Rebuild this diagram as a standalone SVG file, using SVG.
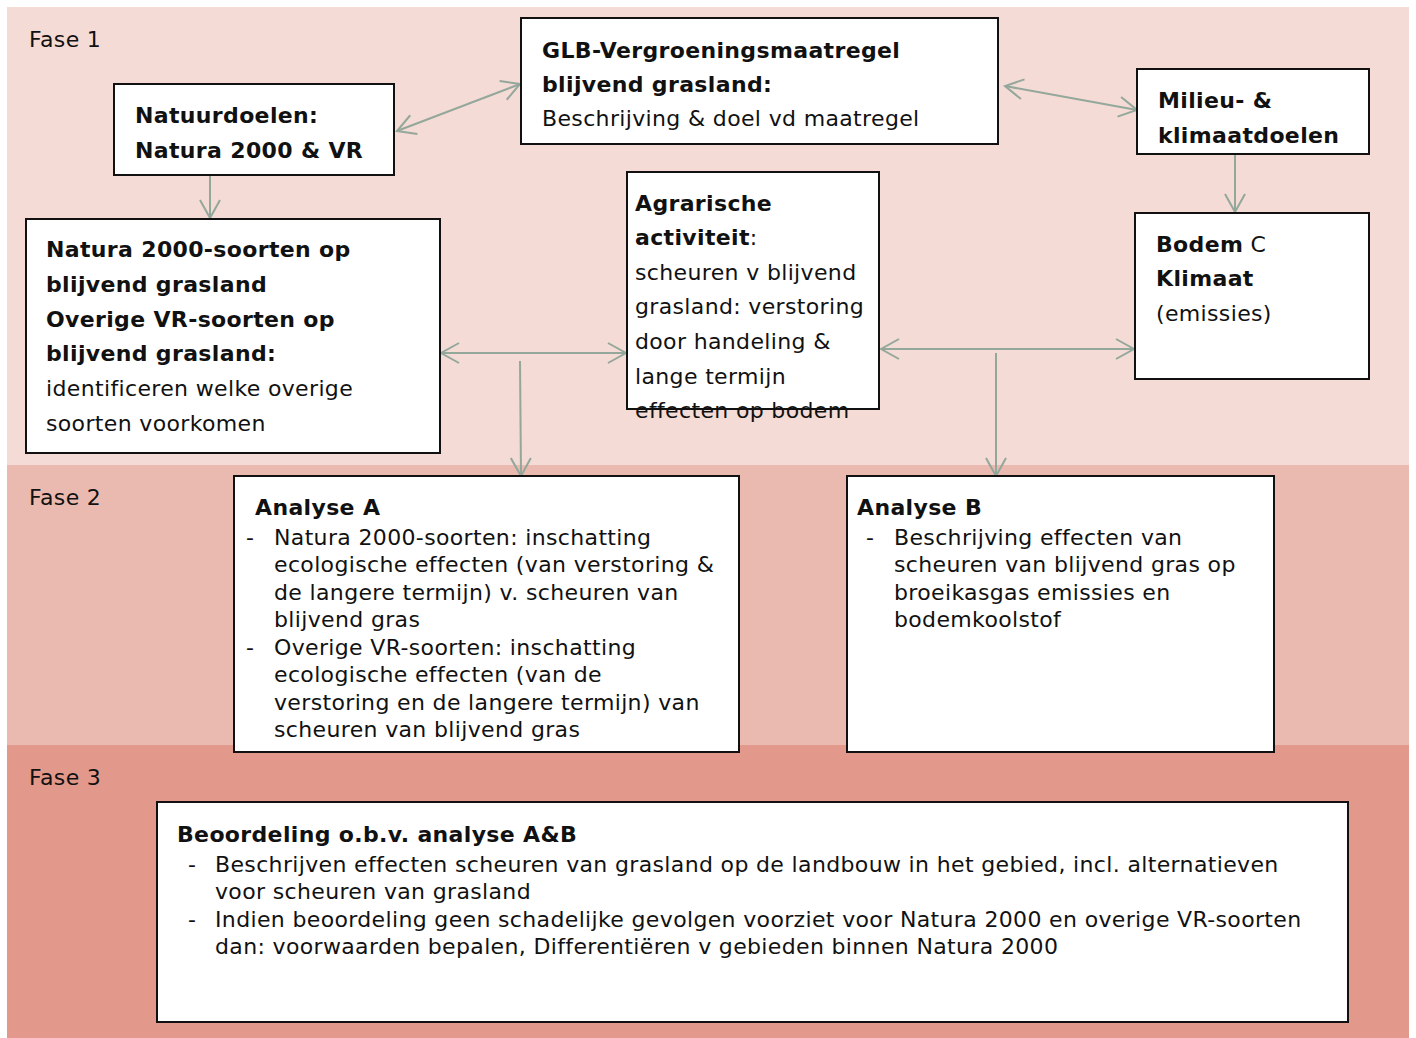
<svg xmlns="http://www.w3.org/2000/svg" width="1416" height="1038" viewBox="0 0 1416 1038">
<style>
text{font-family:"DejaVu Sans",Verdana,sans-serif;font-size:22px;letter-spacing:0.35px;fill:#111}
.b{font-weight:bold}
.box{fill:#fff;stroke:#111;stroke-width:2}
.c{stroke:#93a79a;stroke-width:2;fill:none}
</style>
<defs>
<marker id="ah" markerUnits="userSpaceOnUse" markerWidth="22" markerHeight="22" viewBox="0 0 22 22" refX="20" refY="11" orient="auto-start-reverse">
<path d="M2,1 L20,11 L2,21" fill="none" stroke="#93a79a" stroke-width="2"/>
</marker>
</defs>
<rect width="1416" height="1038" fill="#fff"/>
<g id="bands">
<rect x="7" y="7" width="1402" height="458" fill="#f5dbd6"/>
<rect x="7" y="465" width="1402" height="280" fill="#eab9b0"/>
<rect x="7" y="745" width="1402" height="293" fill="#e2988a"/>
<text x="29" y="47">Fase 1</text>
<text x="29" y="505">Fase 2</text>
<text x="29" y="785">Fase 3</text>
</g>
<g id="connectors">
<line class="c" x1="397" y1="131" x2="520" y2="84" marker-start="url(#ah)" marker-end="url(#ah)"/>
<line class="c" x1="1005" y1="86" x2="1137" y2="110" marker-start="url(#ah)" marker-end="url(#ah)"/>
<line class="c" x1="210" y1="158" x2="210" y2="218" marker-end="url(#ah)"/>
<line class="c" x1="1235" y1="154" x2="1235" y2="212" marker-end="url(#ah)"/>
<line class="c" x1="441" y1="353" x2="626" y2="353" marker-start="url(#ah)" marker-end="url(#ah)"/>
<line class="c" x1="520" y1="361" x2="521" y2="476" marker-end="url(#ah)"/>
<line class="c" x1="881" y1="349" x2="1134" y2="349" marker-start="url(#ah)" marker-end="url(#ah)"/>
<line class="c" x1="996" y1="353" x2="996" y2="476" marker-end="url(#ah)"/>
</g>
<g id="natuurdoelen">
<rect class="box" x="114" y="84" width="280" height="91"/>
<text class="b" x="135" y="123">Natuurdoelen:</text>
<text class="b" x="135" y="158">Natura 2000 &amp; VR</text>
</g>
<g id="glb">
<rect class="box" x="521" y="18" width="477" height="126"/>
<text class="b" x="542" y="58">GLB-Vergroeningsmaatregel</text>
<text class="b" x="542" y="92">blijvend grasland:</text>
<text x="542" y="126">Beschrijving &amp; doel vd maatregel</text>
</g>
<g id="milieu">
<rect class="box" x="1137" y="69" width="232" height="85"/>
<text class="b" x="1158" y="108">Milieu- &amp;</text>
<text class="b" x="1158" y="143">klimaatdoelen</text>
</g>
<g id="soorten">
<rect class="box" x="26" y="219" width="414" height="234"/>
<text class="b" x="46" y="257">Natura 2000-soorten op</text>
<text class="b" x="46" y="292">blijvend grasland</text>
<text class="b" x="46" y="327">Overige VR-soorten op</text>
<text class="b" x="46" y="361">blijvend grasland:</text>
<text x="46" y="396">identificeren welke overige</text>
<text x="46" y="431">soorten voorkomen</text>
</g>
<g id="agrarische">
<rect class="box" x="627" y="172" width="252" height="237"/>
<text class="b" x="635" y="211">Agrarische</text>
<text x="635" y="245"><tspan class="b">activiteit</tspan>:</text>
<text x="635" y="280">scheuren v blijvend</text>
<text x="635" y="314">grasland: verstoring</text>
<text x="635" y="349">door handeling &amp;</text>
<text x="635" y="384">lange termijn</text>
<text x="635" y="418">effecten op bodem</text>
</g>
<g id="bodem">
<rect class="box" x="1135" y="213" width="234" height="166"/>
<text x="1156" y="252"><tspan class="b">Bodem</tspan> C</text>
<text class="b" x="1156" y="286">Klimaat</text>
<text x="1156" y="321">(emissies)</text>
</g>
<g id="analyseA">
<rect class="box" x="234" y="476" width="505" height="276"/>
<text class="b" x="255" y="515">Analyse A</text>
<text x="246" y="545">-</text>
<text x="274" y="545">Natura 2000-soorten: inschatting</text>
<text x="274" y="572">ecologische effecten (van verstoring &amp;</text>
<text x="274" y="600">de langere termijn) v. scheuren van</text>
<text x="274" y="627">blijvend gras</text>
<text x="246" y="655">-</text>
<text x="274" y="655">Overige VR-soorten: inschatting</text>
<text x="274" y="682">ecologische effecten (van de</text>
<text x="274" y="710">verstoring en de langere termijn) van</text>
<text x="274" y="737">scheuren van blijvend gras</text>
</g>
<g id="analyseB">
<rect class="box" x="847" y="476" width="427" height="276"/>
<text class="b" x="857" y="515">Analyse B</text>
<text x="866" y="545">-</text>
<text x="894" y="545">Beschrijving effecten van</text>
<text x="894" y="572">scheuren van blijvend gras op</text>
<text x="894" y="600">broeikasgas emissies en</text>
<text x="894" y="627">bodemkoolstof</text>
</g>
<g id="beoordeling">
<rect class="box" x="157" y="802" width="1191" height="220"/>
<text class="b" x="177" y="842">Beoordeling o.b.v. analyse A&amp;B</text>
<text x="188" y="872">-</text>
<text x="215" y="872">Beschrijven effecten scheuren van grasland op de landbouw in het gebied, incl. alternatieven</text>
<text x="215" y="899">voor scheuren van grasland</text>
<text x="188" y="927">-</text>
<text x="215" y="927">Indien beoordeling geen schadelijke gevolgen voorziet voor Natura 2000 en overige VR-soorten</text>
<text x="215" y="954">dan: voorwaarden bepalen, Differentiëren v gebieden binnen Natura 2000</text>
</g>
</svg>
